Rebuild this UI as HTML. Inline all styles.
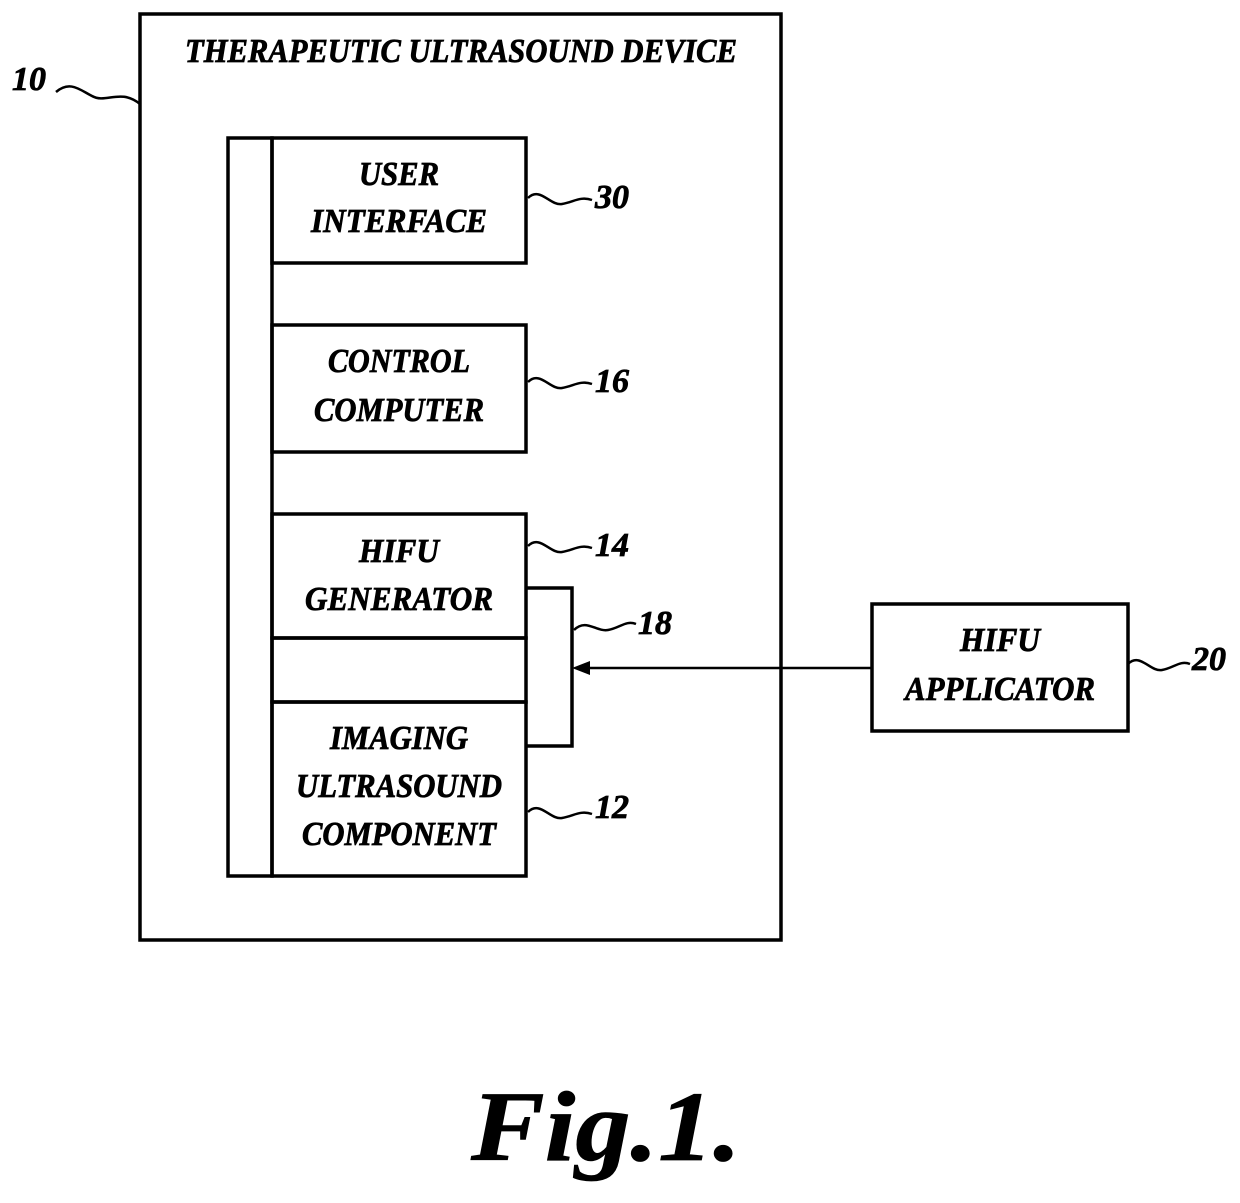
<!DOCTYPE html>
<html><head><meta charset="utf-8"><style>
html,body{margin:0;padding:0;background:#fff;}
svg{display:block}
text{font-family:"Liberation Serif",serif;font-weight:bold;font-style:italic;fill:#000;stroke:#000;stroke-width:0.8;}
</style></head><body>
<svg width="1240" height="1203" viewBox="0 0 1240 1203" xmlns="http://www.w3.org/2000/svg">
<g fill="none" stroke="#000" stroke-width="3.5">
<rect x="140" y="14" width="641" height="926"/>
<rect x="228" y="138" width="44" height="738"/>
<rect x="272" y="138" width="254" height="125"/>
<rect x="272" y="325" width="254" height="127"/>
<rect x="272" y="514" width="254" height="124"/>
<rect x="272" y="638" width="254" height="64"/>
<rect x="272" y="702" width="254" height="174"/>
<polyline points="526,588 572,588 572,746 526,746"/>
<rect x="872" y="604" width="256" height="127"/>
<line x1="872" y1="668" x2="584" y2="668" stroke-width="2.5"/>
<path d="M56,92 C70,80 80,90 92,96 C106,104 120,88 140,104" stroke-width="2.5"/>
<path d="M528,198 C540,186 550,206 562,204 C574,202 580,196 592,200" stroke-width="2.5"/>
<path d="M528,382 C540,370 550,390 562,388 C574,386 580,380 592,384" stroke-width="2.5"/>
<path d="M528,546 C540,534 550,554 562,552 C574,550 580,544 592,548" stroke-width="2.5"/>
<path d="M574,630 C586,618 596,632 608,630 C620,628 626,620 636,624" stroke-width="2.5"/>
<path d="M1128,664 C1140,652 1150,672 1162,670 C1174,668 1180,660 1190,664" stroke-width="2.5"/>
<path d="M528,812 C540,800 550,820 562,818 C574,816 580,810 592,814" stroke-width="2.5"/>
</g>
<polygon points="572,668 590,661 590,675" fill="#000"/>
<g font-size="34" text-anchor="middle">
<text x="461" y="62" textLength="552" lengthAdjust="spacingAndGlyphs">THERAPEUTIC ULTRASOUND DEVICE</text>
<text x="399" y="185" textLength="80" lengthAdjust="spacingAndGlyphs">USER</text>
<text x="399" y="232" textLength="176" lengthAdjust="spacingAndGlyphs">INTERFACE</text>
<text x="399" y="372" textLength="142" lengthAdjust="spacingAndGlyphs">CONTROL</text>
<text x="399" y="421" textLength="170" lengthAdjust="spacingAndGlyphs">COMPUTER</text>
<text x="399" y="562" textLength="80" lengthAdjust="spacingAndGlyphs">HIFU</text>
<text x="399" y="610" textLength="188" lengthAdjust="spacingAndGlyphs">GENERATOR</text>
<text x="399" y="749" textLength="138" lengthAdjust="spacingAndGlyphs">IMAGING</text>
<text x="399" y="797" textLength="206" lengthAdjust="spacingAndGlyphs">ULTRASOUND</text>
<text x="399" y="845" textLength="194" lengthAdjust="spacingAndGlyphs">COMPONENT</text>
<text x="1000" y="651" textLength="80" lengthAdjust="spacingAndGlyphs">HIFU</text>
<text x="1000" y="700" textLength="190" lengthAdjust="spacingAndGlyphs">APPLICATOR</text>
</g>
<g font-size="34">
<text x="12" y="90">10</text>
<text x="595" y="208">30</text>
<text x="595" y="392">16</text>
<text x="595" y="556">14</text>
<text x="638" y="634">18</text>
<text x="1192" y="670">20</text>
<text x="595" y="818">12</text>
</g>
<text x="606" y="1160" font-size="100" text-anchor="middle" textLength="270" lengthAdjust="spacingAndGlyphs">Fig.1.</text>
</svg>
</body></html>
